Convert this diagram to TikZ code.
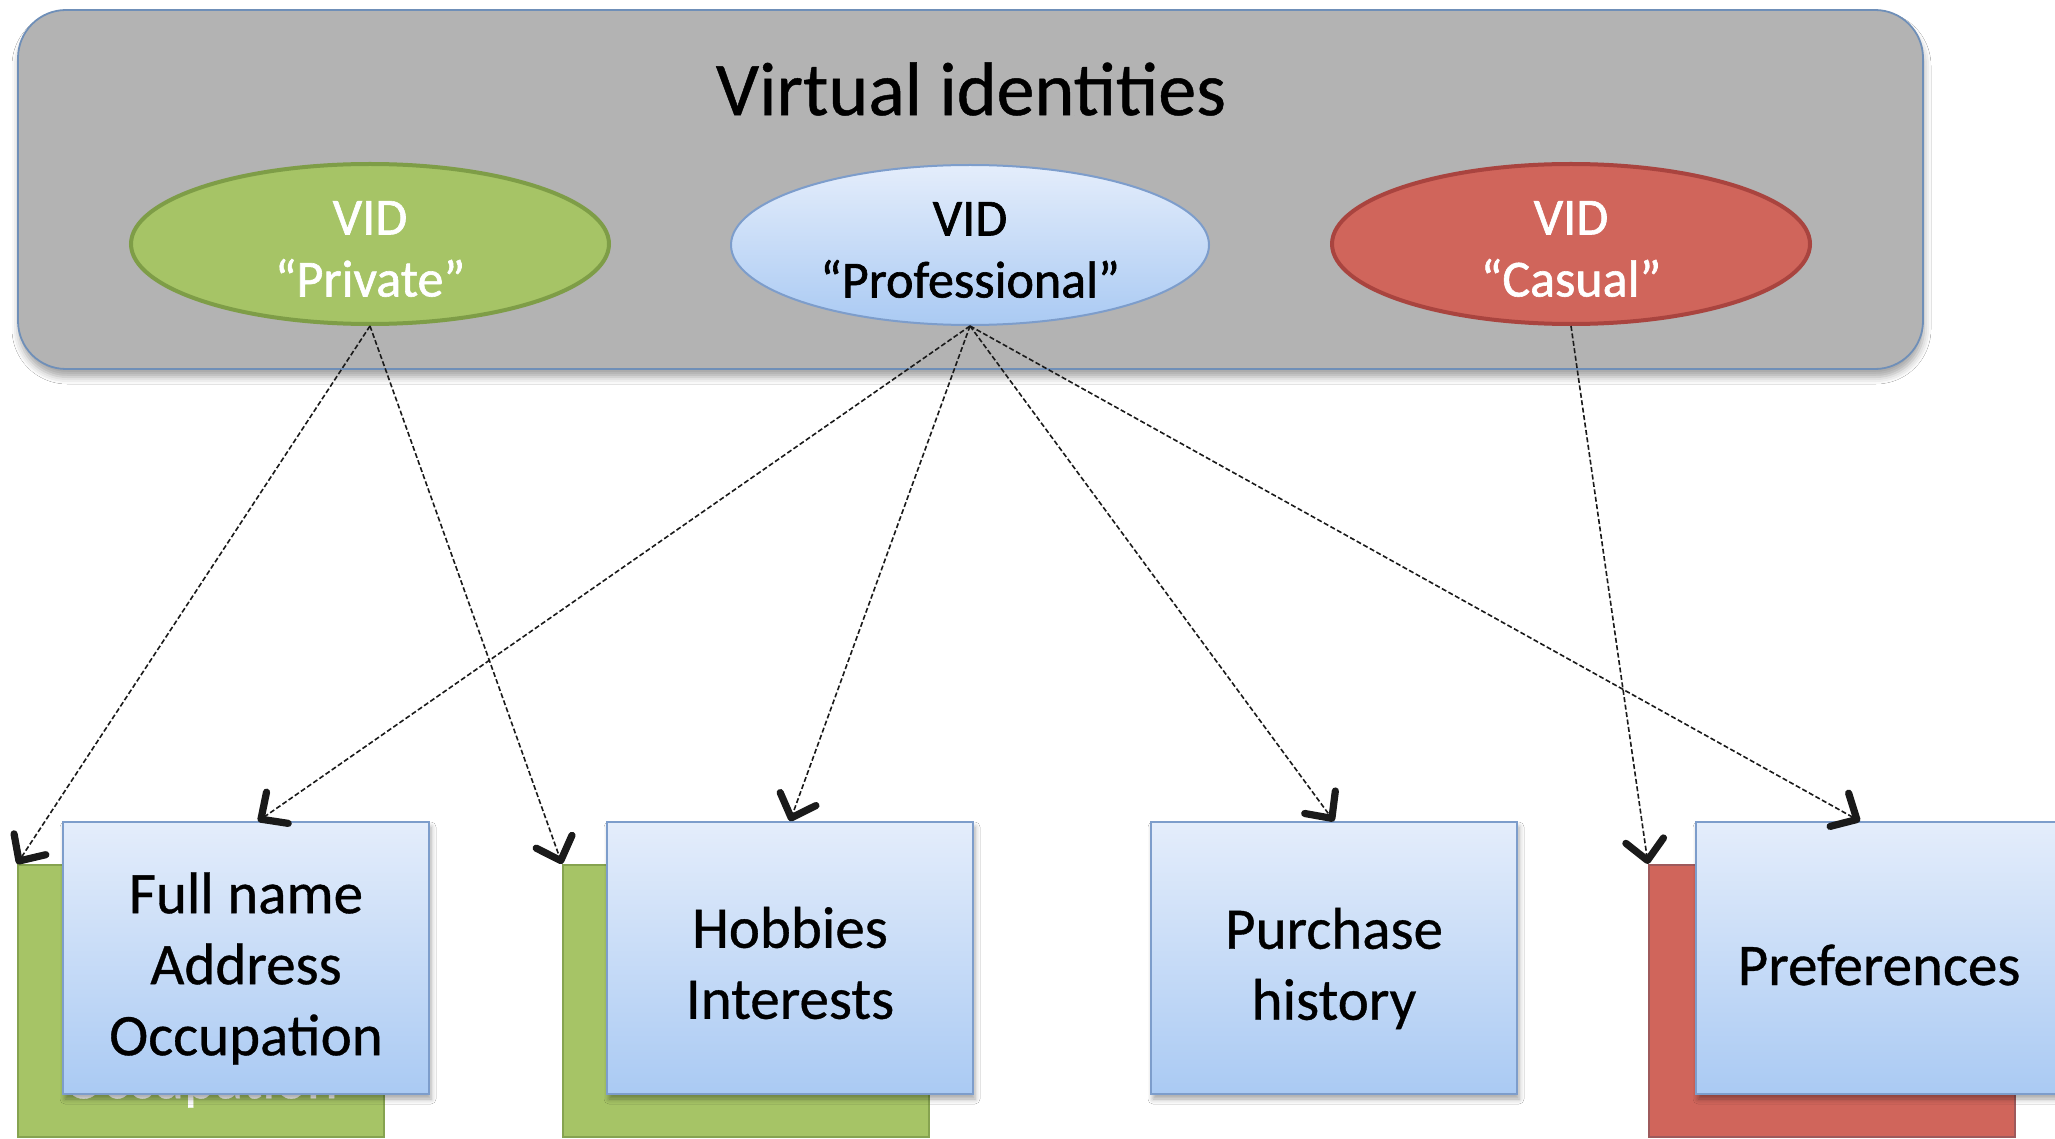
\documentclass[tikz,border=0pt]{standalone}
\usepackage{fontspec}
\setmainfont{Carlito}[FakeBold=0.6]
\newfontfamily\vidfont{Carlito}[FakeBold=1.2]
\usetikzlibrary{shapes.geometric,arrows.meta,shadows.blur,calc}

\definecolor{panelgray}{HTML}{B3B3B3}
\definecolor{paneledge}{HTML}{6F8FB8}
\definecolor{vidgreen}{HTML}{A6C466}
\definecolor{vidgreenedge}{HTML}{7E9D47}
\definecolor{vidred}{HTML}{D0655B}
\definecolor{vidrededge}{HTML}{A9443F}
\definecolor{bluetop}{HTML}{E4EDFB}
\definecolor{bluebot}{HTML}{AACAF3}
\definecolor{blueedge}{HTML}{7D9DCB}
\definecolor{greenbackedge}{HTML}{86A350}
\definecolor{redbackedge}{HTML}{9E5A5C}
\definecolor{linkgray}{HTML}{1A1A1A}

\tikzset{
  panel/.style={rectangle, rounded corners=48pt, fill=panelgray, draw=paneledge,
    line width=1.8pt, minimum width=1905pt, minimum height=359pt, inner sep=0pt,
    blur shadow={shadow xshift=1pt, shadow yshift=-8pt, shadow blur radius=7pt, shadow opacity=35}},
  titletext/.style={font=\fontsize{76}{90}\selectfont, inner sep=0pt},
  vid/.style={ellipse, minimum width=478pt, minimum height=160pt, inner sep=0pt},
  vidtext/.style={inner sep=0pt, align=center, font=\vidfont\fontsize{52}{62}\selectfont},
  boxtext/.style={inner sep=0pt, align=center, font=\fontsize{59}{71}\selectfont},
  attrbox/.style={rectangle, minimum width=366pt, minimum height=272pt, inner sep=0pt},
  frontbox/.style={attrbox, draw=blueedge, line width=1.5pt, top color=bluetop, bottom color=bluebot,
    blur shadow={shadow xshift=2pt, shadow yshift=-5pt, shadow blur radius=5pt, shadow opacity=35}},
  greenback/.style={attrbox, fill=vidgreen, draw=greenbackedge, line width=2pt},
  redback/.style={attrbox, fill=vidred, draw=redbackedge, line width=2pt},
  link/.style={draw=linkgray, dash pattern=on 5pt off 2.5pt, line width=1.6pt,
    -{Straight Barb[length=20pt,width=38pt,line width=0pt 4.5,round]}}
}

\begin{document}
\begin{tikzpicture}[x=1pt,y=-1pt]
\useasboundingbox (0,0) rectangle (2055,1139);
\clip (0,0) rectangle (2055,1139);
\fill[white] (0,0) rectangle (2055,1139);

% upper panel with the three virtual identities
\node[panel] (panel) at (970.5,189.5) {};
\node[titletext] (title) at (971,89) {Virtual identities};

\node[vid, fill=vidgreen, draw=vidgreenedge, line width=4pt] (priv) at (370,244) {};
\node[vidtext, text=white] (privt) at (370,249) {VID\\“Private”};
\node[vid, top color=bluetop, bottom color=bluebot, draw=blueedge, line width=2pt] (prof) at (970,245) {};
\node[vidtext, text=black] (proft) at (970,250) {VID\\“Professional”};
\node[vid, fill=vidred, draw=vidrededge, line width=4pt] (cas) at (1571,244) {};
\node[vidtext, text=white] (cast) at (1571,249) {VID\\“Casual”};

% attribute cards kept by the private and casual identities (behind)
\node[greenback] (gb1) at (201,1001) {};
\node[boxtext, text=white] (gb1t) at (201,1011.5) {Full name\\Address\\Occupation};
\node[greenback] (gb2) at (746,1001) {};
\node[redback] (rb4) at (1832,1001) {};
\node[boxtext, text=black] (rb4t) at (1833,1008) {Preferences};

% attribute cards of the professional identity (front)
\node[frontbox] (fb1) at (246,958) {};
\node[boxtext] (fb1t) at (246,968.5) {Full name\\Address\\Occupation};
\node[frontbox] (fb2) at (790,958) {};
\node[boxtext] (fb2t) at (790,963) {Hobbies\\Interests};
\node[frontbox] (fb3) at (1334,958) {};
\node[boxtext] (fb3t) at (1334,968.5) {Purchase\\history};
\node[frontbox] (fb4) at (1879,958) {};
\node[boxtext] (fb4t) at (1879,965) {Preferences};

% links from each identity to the attributes it discloses
\draw[link] (priv.south) -- (gb1.north west);
\draw[link] (priv.south) -- (gb2.north west);
\draw[link] (prof.south) -- ($(fb1.north)+(12,0)$);
\draw[link] (prof.south) -- (fb2.north);
\draw[link] (prof.south) -- (fb3.north);
\draw[link] (prof.south) -- ($(fb4.north)+(-19,0)$);
\draw[link] (cas.south) -- (rb4.north west);
\end{tikzpicture}
\end{document}
